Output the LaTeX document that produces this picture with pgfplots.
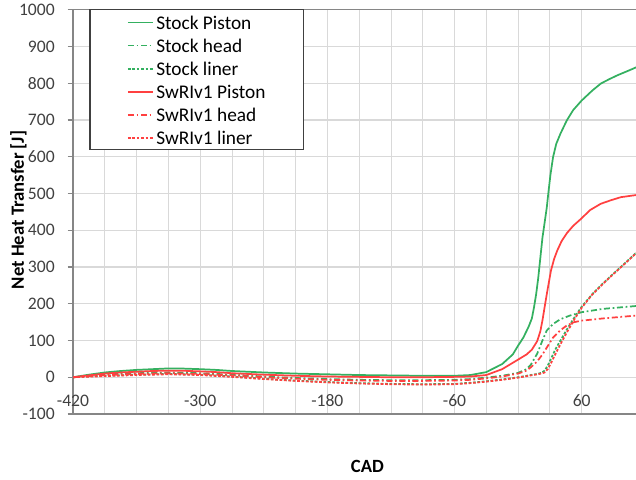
\documentclass[border=0pt]{standalone}
\usepackage{pgfplots}
\pgfplotsset{compat=1.18}
\usepackage{fontspec}
\setmainfont{Carlito}

\definecolor{stockgreen}{RGB}{52,176,96}
\definecolor{swrired}{RGB}{255,64,64}
\definecolor{gridgray}{RGB}{217,217,217}
\definecolor{axisgray}{RGB}{134,134,134}
\definecolor{labelgray}{RGB}{64,64,64}

\tikzset{
  dashdot/.style={dash pattern=on 4.5pt off 2pt on 1.3pt off 2pt},
  shortdash/.style={dash pattern=on 2pt off 1.3pt},
  keytext/.style={anchor=west, inner sep=0pt, text height=10pt, text depth=0pt,
    font=\fontsize{14.5}{16}\selectfont, text=black},
  keyline/.style={line width=1.35pt},
}

\begin{document}
\begin{tikzpicture}
\path[use as bounding box] (0,0) rectangle (477pt,359.25pt);
\clip (0,0) rectangle (477pt,359.25pt);

\begin{axis}[
  at={(54.75pt,48.75pt)}, anchor=south west,
  scale only axis, width=429.2pt, height=303.2pt,
  xmin=-420, xmax=120, ymin=-100, ymax=1000,
  xtick={-420,-300,-180,-60,60},
  minor x tick num=3,
  ytick={-100,0,...,1000},
  /pgf/number format/assume math mode=true,
  /pgf/number format/1000 sep={},
  tick label style={font=\fontsize{13.2}{15}\selectfont, text=labelgray},
  yticklabel style={inner sep=0pt, anchor=east, xshift=-9.5pt},
  xticklabel style={inner sep=0pt, anchor=north, yshift=18.5pt},
  xmajorgrids, xminorgrids, ymajorgrids,
  major grid style={gridgray, line width=0.8pt},
  minor grid style={gridgray, line width=0.6pt},
  axis line style={axisgray, line width=0.9pt},
  axis x line*=bottom, axis y line*=left,
  ytick style={axisgray, line width=0.8pt},
  major tick length=4pt,
  xtick style={draw=none}, minor x tick style={draw=none},
  tick align=outside,
  every axis plot/.append style={line width=1.3pt},
]
% frame line along the top of the plot area
\draw[axisgray, line width=0.9pt] (axis cs:-420,1000) -- (axis cs:120,1000);

% Stock piston
\addplot[stockgreen] coordinates {
(-420,0) (-405,7) (-390,13) (-375,17) (-360,20) (-345,22) (-330,24) (-315,23.5)
(-300,22) (-285,20) (-270,17) (-255,15) (-240,13) (-210,10) (-180,8) (-150,6)
(-120,5) (-90,4) (-60,4) (-45,6) (-30,14) (-15,36) (-5,62) (0,86) (5,108)
(10,138) (13,160) (15,190) (17,225) (19,270) (21,325) (23,380) (25,420) (27,460)
(28.5,500) (30.5,550) (33,599) (36,635) (40,663) (46,699) (52,727) (60,753)
(70,780) (78,799) (86,811) (94,822) (104,834) (112,844) (120,850)};

% Stock head
\addplot[stockgreen, dashdot] coordinates {
(-420,0) (-400,5) (-380,9) (-360,11) (-330,13) (-300,11) (-270,7) (-240,2)
(-210,-2) (-180,-5) (-150,-7) (-120,-8) (-90,-8) (-60,-7) (-45,-5) (-30,-1)
(-15,4) (0,12) (8,22) (12,34) (18,64) (23,100) (27,127) (33,145) (40,158)
(49,168) (60,177) (80,186) (100,191) (112,194) (120,196)};

% Stock liner
\addplot[stockgreen, shortdash] coordinates {
(-420,0) (-400,3) (-380,5) (-360,7) (-330,9) (-300,7) (-270,2) (-240,-4)
(-210,-9) (-180,-13) (-150,-16) (-120,-18) (-90,-19) (-60,-18) (-45,-15)
(-30,-11) (-15,-6) (0,0) (10,5) (18,9) (22,12) (25,18) (28,32) (31,50)
(35,75) (40,100) (46,130) (53,162) (60,192) (70,226) (80,255) (90,282)
(100,308) (112,340) (120,360)};

% SwRIv1 piston
\addplot[swrired] coordinates {
(-420,0) (-405,5) (-390,10) (-375,13) (-360,15) (-345,17) (-330,18) (-315,17.5)
(-300,16) (-285,14) (-270,11) (-255,9) (-240,7) (-210,4) (-180,2) (-150,1)
(-120,0) (-90,0) (-60,1) (-45,2) (-30,6) (-15,22) (0,48) (8,62) (13,75)
(18,98) (21,125) (23,155) (25,190) (27,225) (31,290) (34,322) (37,345)
(41,370) (46,392) (52,412) (59,430) (68,455) (78,472) (88,482) (97,490)
(112,496) (120,499)};

% SwRIv1 head
\addplot[swrired, dashdot] coordinates {
(-420,0) (-400,4) (-380,7) (-360,9) (-330,11) (-300,9) (-270,5) (-240,0)
(-210,-4) (-180,-7) (-150,-9) (-120,-10) (-90,-10) (-60,-9) (-45,-7) (-30,-3)
(-15,2) (0,10) (8,18) (12,27) (18,43) (23,62) (28,85) (33,108) (40,128)
(46,141) (53,150) (60,154) (80,160) (100,165) (112,168) (120,170)};

% SwRIv1 liner
\addplot[swrired, shortdash] coordinates {
(-420,0) (-400,2) (-380,4) (-360,6) (-330,8) (-300,6) (-270,1) (-240,-5)
(-210,-10) (-180,-14) (-150,-17) (-120,-19) (-90,-20) (-60,-19) (-45,-16)
(-30,-12) (-15,-7) (0,-1) (10,4) (18,8) (22,10) (25,13) (28,22) (31,38)
(35,62) (40,90) (46,122) (53,157) (60,189) (70,225) (80,254) (90,281)
(100,307) (112,339) (120,358)};

% key: frame, line samples and names
\draw[labelgray, line width=0.8pt, fill=white]
  (axis description cs:0.0297,1) rectangle (axis description cs:0.402,0.6537);
\draw[stockgreen, keyline] (axis description cs:0.0961,0.9686) -- (axis description cs:0.1398,0.9686);
\draw[stockgreen, keyline, dashdot] (axis description cs:0.0961,0.9117) -- (axis description cs:0.1398,0.9117);
\draw[stockgreen, keyline, shortdash] (axis description cs:0.0961,0.8541) -- (axis description cs:0.1398,0.8541);
\draw[swrired, keyline] (axis description cs:0.0961,0.7972) -- (axis description cs:0.1398,0.7972);
\draw[swrired, keyline, dashdot] (axis description cs:0.0961,0.7403) -- (axis description cs:0.1398,0.7403);
\draw[swrired, keyline, shortdash] (axis description cs:0.0961,0.6834) -- (axis description cs:0.1398,0.6834);
\node[keytext] at (axis description cs:0.1451,0.9686) {Stock Piston};
\node[keytext] at (axis description cs:0.1451,0.9117) {Stock head};
\node[keytext] at (axis description cs:0.1451,0.8541) {Stock liner};
\node[keytext] at (axis description cs:0.1451,0.7972) {SwRIv1 Piston};
\node[keytext] at (axis description cs:0.1451,0.7403) {SwRIv1 head};
\node[keytext] at (axis description cs:0.1451,0.6834) {SwRIv1 liner};
\end{axis}

\node[rotate=90, font=\bfseries\fontsize{14}{16}\selectfont, text=black]
  at (13.9pt,201.75pt) {Net Heat Transfer [J]};
\node[font=\bfseries\fontsize{14}{16}\selectfont, text=black]
  at (275.6pt,9.75pt) {CAD};
\end{tikzpicture}
\end{document}
